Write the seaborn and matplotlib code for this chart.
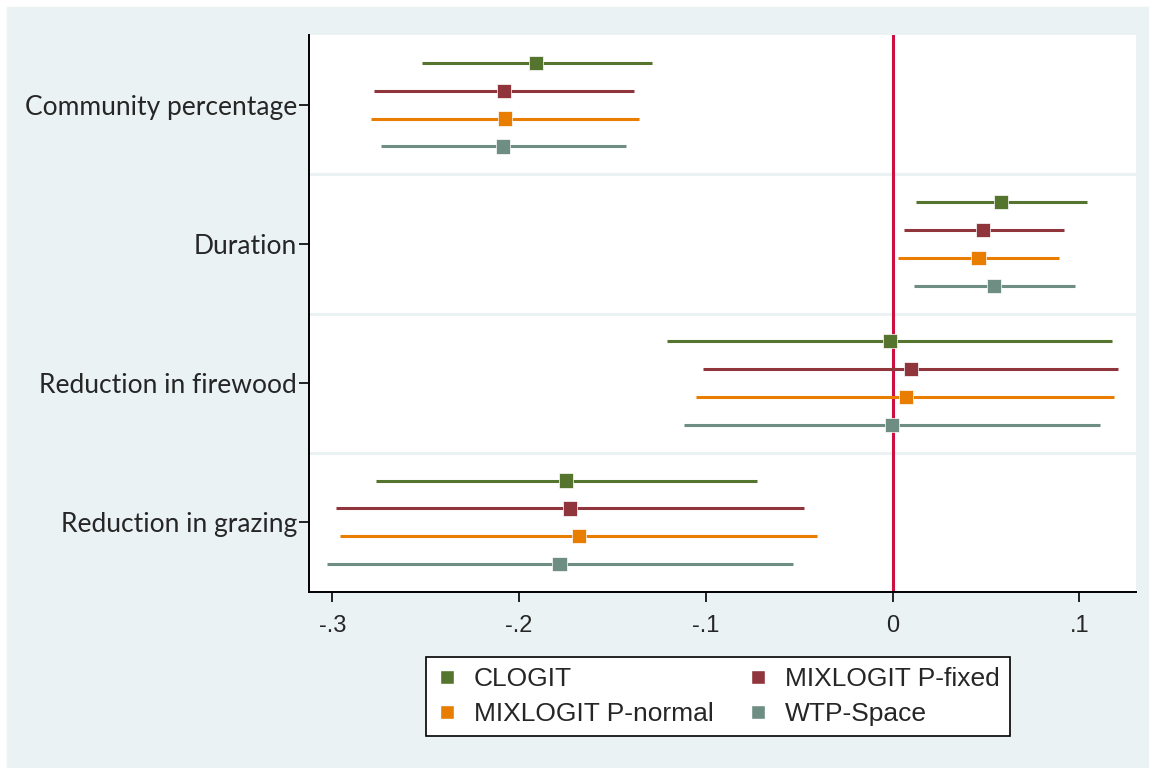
import matplotlib
matplotlib.use('Agg')
from matplotlib import pyplot as plt
from matplotlib.lines import Line2D
from matplotlib.patches import Rectangle
import numpy as np
import pandas as pd
import seaborn as sns

# attribute names (top to bottom) and the four model specifications
attributes = ['Community percentage', 'Duration', 'Reduction in firewood', 'Reduction in grazing']
models = ['CLOGIT', 'MIXLOGIT P-fixed', 'MIXLOGIT P-normal', 'WTP-Space']

# point estimates per model, in attribute order
estClogit = [-0.1908, 0.0580, -0.0015, -0.1749]
estPfixed = [-0.2079, 0.0486, 0.0097, -0.1729]
estPnormal = [-0.2076, 0.0460, 0.0071, -0.1680]
estWtp = [-0.2086, 0.0545, -0.0003, -0.1784]

# lower / upper confidence bounds
loClogit = [-0.2522, 0.0124, -0.1209, -0.2768]
hiClogit = [-0.1290, 0.1040, 0.1177, -0.0727]
loPfixed = [-0.2777, 0.0062, -0.1013, -0.2983]
hiPfixed = [-0.1383, 0.0917, 0.1209, -0.0475]
loPnormal = [-0.2793, 0.0028, -0.1052, -0.2957]
hiPnormal = [-0.1356, 0.0893, 0.1188, -0.0405]
loWtp = [-0.2741, 0.0117, -0.1117, -0.3028]
hiWtp = [-0.1429, 0.0978, 0.1113, -0.0534]

xTicks = [-0.3, -0.2, -0.1, 0, 0.1]
xTickLabels = ['-.3', '-.2', '-.1', '0', '.1']

colors = {'CLOGIT': '#55752f', 'MIXLOGIT P-fixed': '#90353b',
          'MIXLOGIT P-normal': '#e87d00', 'WTP-Space': '#6e8e84'}
bgColor = '#eaf2f3'

# long table, one row per attribute/model
rows = []
ests = [estClogit, estPfixed, estPnormal, estWtp]
los = [loClogit, loPfixed, loPnormal, loWtp]
his = [hiClogit, hiPfixed, hiPnormal, hiWtp]
for m, name in enumerate(models):
    for a, attr in enumerate(attributes):
        # dodge the four models inside each attribute row
        rows.append({'attribute': attr, 'model': name, 'est': ests[m][a],
                     'lo': los[m][a], 'hi': his[m][a],
                     'ypos': a + (m - 1.5) * 0.2})
df = pd.DataFrame(rows)

sns.set_style('white')
plt.rcParams['font.family'] = ['Liberation Sans', 'DejaVu Sans']

fig = plt.figure(figsize=(11.49, 7.68), dpi=100)
fig.patch.set_facecolor('white')
fig.patches.append(Rectangle((7 / 1149, 0), 1 - 7 / 1149, 1 - 7 / 768,
                             transform=fig.transFigure, color=bgColor, zorder=-10))
ax = fig.add_axes([309 / 1149, 1 - 592 / 768, (1136 - 309) / 1149, (592 - 35) / 768])
ax.set_facecolor('white')

# separators between attribute rows
for s in [0.5, 1.5, 2.5]:
    ax.axhline(s, color=bgColor, lw=2.2, zorder=1)

# zero reference line
ax.axvline(0, color='#cc1040', lw=2.2, zorder=2)

# confidence intervals
for name in models:
    sub = df[df['model'] == name]
    ax.hlines(sub['ypos'], sub['lo'], sub['hi'], color=colors[name], lw=2.2, zorder=3)

sns.scatterplot(data=df, x='est', y='ypos', hue='model', palette=colors, marker='s',
                s=105, edgecolor='white', linewidth=0.5, legend=False, zorder=4, ax=ax)

ax.set_xlim(-0.3125, 0.1304)
ax.set_ylim(3.5, -0.5)
ax.set_xticks(xTicks)
ax.set_xticklabels(xTickLabels, fontsize=17)
ax.set_yticks(range(len(attributes)))
ax.set_yticklabels(attributes, fontsize=19, family=['Lato', 'DejaVu Sans'])
ax.tick_params(axis='both', direction='out', length=7.5, width=1.2, color='black',
               left=True, bottom=True, pad=1)
ax.tick_params(axis='x', pad=9)
ax.set_xlabel('')
ax.set_ylabel('')
for side in ['top', 'right']:
    ax.spines[side].set_visible(False)
for side in ['left', 'bottom']:
    ax.spines[side].set_color('black')
    ax.spines[side].set_linewidth(1.4)

# legend: two columns, filled column-wise
order = ['CLOGIT', 'MIXLOGIT P-normal', 'MIXLOGIT P-fixed', 'WTP-Space']
handles = [Line2D([], [], marker='s', linestyle='none', markersize=10,
                  markerfacecolor=colors[n], markeredgecolor='white') for n in order]
leg = fig.legend(handles, order, loc='center', bbox_to_anchor=(0.625, 0.093), ncol=2,
                 fontsize=19, frameon=True, fancybox=False, edgecolor='black',
                 facecolor='white', framealpha=1,
                 handlelength=0.8, handletextpad=0.6, columnspacing=1.3,
                 borderpad=0.4, labelspacing=0.4, borderaxespad=0)
leg.get_frame().set_linewidth(1.2)

fig.savefig('out.png', dpi=100, facecolor=fig.get_facecolor())
